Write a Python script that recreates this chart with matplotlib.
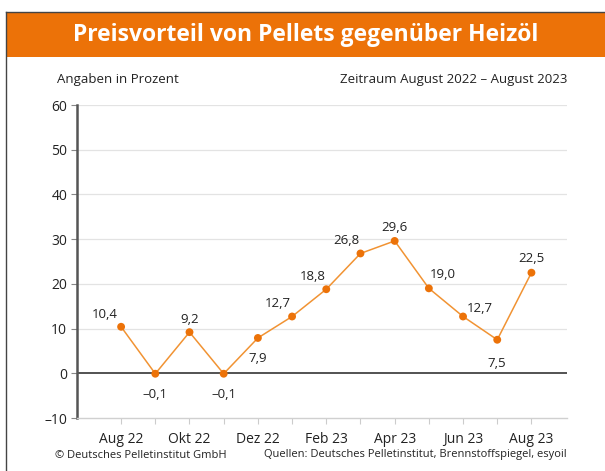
import matplotlib
matplotlib.use('Agg')
import matplotlib.pyplot as plt
from matplotlib.patches import Rectangle
from matplotlib.lines import Line2D

plt.rcParams['font.family'] = ['Open Sans', 'DejaVu Sans']

# Daten
months = ['Aug 22', 'Sep 22', 'Okt 22', 'Nov 22', 'Dez 22', 'Jan 23', 'Feb 23',
          'Mär 23', 'Apr 23', 'Mai 23', 'Jun 23', 'Jul 23', 'Aug 23']
values = [10.4, -0.1, 9.2, -0.1, 7.9, 12.7, 18.8, 26.8, 29.6, 19.0, 12.7, 7.5, 22.5]
labels = ['10,4', '–0,1', '9,2', '–0,1', '7,9', '12,7', '18,8', '26,8', '29,6',
          '19,0', '12,7', '7,5', '22,5']
# Versatz der Wertebeschriftung (Punkte)
offsets = [(-12, 9), (0, -15), (0, 9), (0, -15), (0, -15), (-10, 9), (-10, 9),
           (-10, 9), (0, 10), (10, 10), (12, 6), (0, -17), (0, 10)]
yticks = [-10, 0, 10, 20, 30, 40, 50, 60]

orange = '#EC7208'
line_orange = '#F19333'

fig = plt.figure(figsize=(6.05, 4.71), dpi=100)

# Rahmen und Kopfbalken
fig.add_artist(Rectangle((6 / 605, 1 - 57 / 471), 1, 45 / 471, transform=fig.transFigure,
                         facecolor=orange, edgecolor='none'))
fig.add_artist(Line2D([6 / 605, 6 / 605], [0, 1 - 12 / 471], transform=fig.transFigure,
                      color='#444444', linewidth=1.0))
fig.add_artist(Line2D([6 / 605, 1], [1 - 12 / 471, 1 - 12 / 471], transform=fig.transFigure,
                      color='#444444', linewidth=1.0))
fig.text(306 / 605, 1 - 35 / 471, 'Preisvorteil von Pellets gegenüber Heizöl',
         color='white', fontsize=16.5, fontweight='bold', ha='center', va='center')

ax = fig.add_axes([77 / 605, 1 - 418 / 471, (567 - 77) / 605, (418 - 105) / 471])
x = list(range(len(months)))
ax.plot(x, values, color=line_orange, linewidth=1.1, zorder=3)
ax.scatter(x, values, color=orange, s=32, zorder=4, edgecolors='none')

for xi, v, lab, off in zip(x, values, labels, offsets):
    ax.annotate(lab, (xi, v), xytext=off, textcoords='offset points',
                ha='center', va='center', fontsize=9.5, color='#222222')

ax.set_xlim(-1.29, 13.04)
ax.set_ylim(-10, 60)
ax.set_yticks(yticks)
ax.set_yticklabels([f'{t}'.replace('-', '–') for t in yticks], fontsize=10, color='#222222')
ax.set_xticks(x)
ax.set_xticklabels([m if i % 2 == 0 else '' for i, m in enumerate(months)],
                   fontsize=10, color='#222222')

for t in yticks[1:]:
    if t == 0:
        ax.axhline(0, color='#444444', linewidth=1.3, zorder=2)
    else:
        ax.axhline(t, color='#e3e3e3', linewidth=0.9, zorder=1)

for s in ['top', 'right']:
    ax.spines[s].set_visible(False)
ax.spines['left'].set_color('#555555')
ax.spines['left'].set_linewidth(1.8)
ax.spines['bottom'].set_color('#d0d0d0')
ax.spines['bottom'].set_linewidth(1.0)
ax.tick_params(axis='y', length=4, width=0.8, color='#888888', pad=3)
ax.tick_params(axis='x', length=4, width=0.8, color='#cccccc', pad=6)

fig.text(57 / 605, 1 - 80 / 471, 'Angaben in Prozent', fontsize=9.5, ha='left',
         va='center', color='#222222')
fig.text(567 / 605, 1 - 80 / 471, 'Zeitraum August 2022 – August 2023', fontsize=9.5,
         ha='right', va='center', color='#222222')
fig.text(55 / 605, 1 - 455 / 471, '© Deutsches Pelletinstitut GmbH', fontsize=8,
         ha='left', va='center', color='#222222')
fig.text(567 / 605, 1 - 455 / 471,
         'Quellen: Deutsches Pelletinstitut, Brennstoffspiegel, esyoil', fontsize=8,
         ha='right', va='center', color='#222222')

fig.savefig('out.png', dpi=100)
